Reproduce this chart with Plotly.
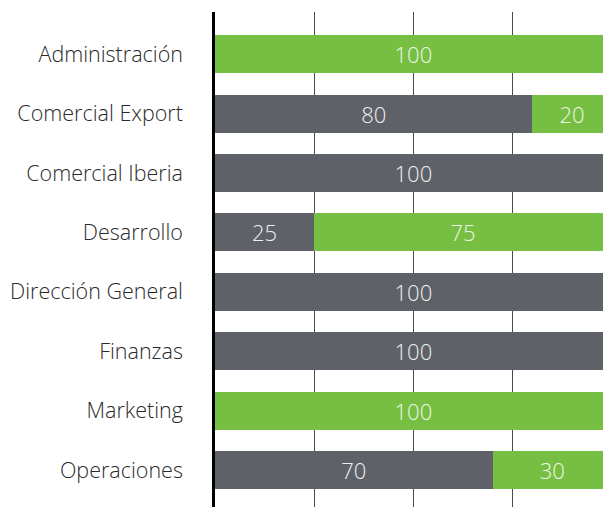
import plotly.graph_objects as go

categories = ["Administración", "Comercial Export", "Comercial Iberia", "Desarrollo",
              "Dirección General", "Finanzas", "Marketing", "Operaciones"]
gray_values = [0, 80, 100, 25, 100, 100, 0, 70]
green_values = [100, 20, 0, 75, 0, 0, 100, 30]

GRAY = "#5f6169"
GREEN = "#77bf43"
FONT = "Open Sans"

def labels(vals):
    return [str(v) if v else "" for v in vals]

fig = go.Figure()
fig.add_trace(go.Bar(
    y=categories, x=gray_values, orientation="h", marker=dict(color=GRAY, line=dict(width=0)),
    text=labels(gray_values), textposition="inside", insidetextanchor="middle",
    textfont=dict(family=FONT, size=22, color="#eef0ee", weight=300), name="A",
))
fig.add_trace(go.Bar(
    y=categories, x=green_values, orientation="h", marker=dict(color=GREEN, line=dict(width=0)),
    text=labels(green_values), textposition="inside", insidetextanchor="middle",
    textfont=dict(family=FONT, size=22, color="#eef5e8", weight=300), name="B",
))

fig.update_layout(
    barmode="stack", bargap=0.36, showlegend=False,
    width=603, height=507, margin=dict(l=215, r=0, t=12, b=0),
    paper_bgcolor="white", plot_bgcolor="white",
    uniformtext=dict(mode=False),
)
fig.update_xaxes(range=[0, 97.8], dtick=25, tick0=0, showgrid=True, gridcolor="#4a4a4a",
                 gridwidth=1, zeroline=False, showticklabels=False, showline=False)
fig.update_yaxes(categoryorder="array", categoryarray=categories,
                 range=[7.62, -0.71], showgrid=False, showline=True, linecolor="#000000",
                 linewidth=2.5, ticks="", ticklabelstandoff=25,
                 tickfont=dict(family=FONT, size=21.5, color="#2a2a2a", weight=300))

fig.write_html("out.html", config={"displayModeBar": False},
               post_script="document.body.style.margin='0';document.body.style.padding='0';document.body.style.overflow='hidden';")
